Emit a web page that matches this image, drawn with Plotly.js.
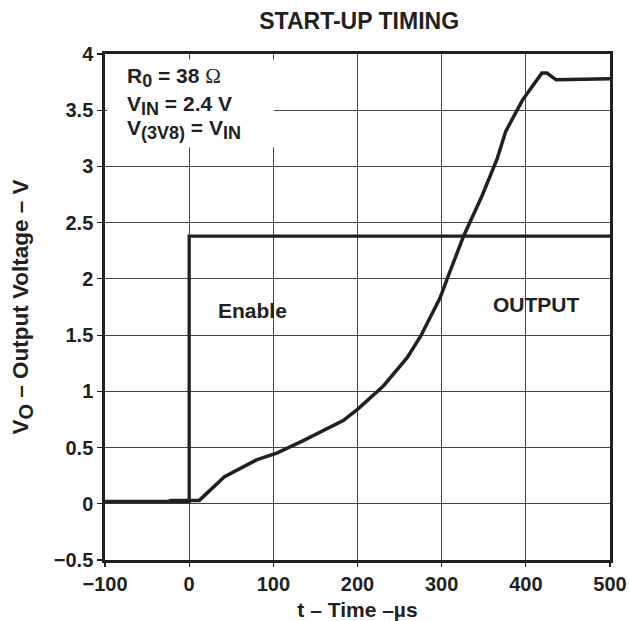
<!DOCTYPE html>
<html>
<head>
<meta charset="utf-8">
<script src="https://cdn.plot.ly/plotly-3.0.1.min.js"></script>
<style>html,body{margin:0;padding:0;background:#fff;}#chart{width:629px;height:621px;}</style>
</head>
<body>
<div id="chart"></div>
<script>
// Enable signal
const enableTime = [-100, 0, 0, 500];
const enableVolt = [0.02, 0.02, 2.38, 2.38];
// Output voltage
const outTime = [-100, -25, -22, 12, 42, 80, 104, 135, 183, 200, 231, 259, 275, 298, 308, 326, 348, 366, 376, 396, 419, 425, 436, 500];
const outVolt = [0.02, 0.02, 0.03, 0.03, 0.24, 0.39, 0.45, 0.56, 0.74, 0.84, 1.05, 1.30, 1.49, 1.83, 2.03, 2.38, 2.74, 3.07, 3.31, 3.59, 3.83, 3.83, 3.77, 3.78];

const xTicks = [-100, 0, 100, 200, 300, 400, 500];
const xTickText = ['\u2212100', '0', '100', '200', '300', '400', '500'];
const yTicks = [-0.5, 0, 0.5, 1, 1.5, 2, 2.5, 3, 3.5, 4];
const yTickText = ['\u22120.5', '0', '0.5', '1', '1.5', '2', '2.5', '3', '3.5', '4'];

const ink = '#231f20';
const fontFam = 'Liberation Sans, Arial, sans-serif';

const traces = [
  {x: enableTime, y: enableVolt, mode: 'lines', line: {color: ink, width: 3.3}, hoverinfo: 'skip'},
  {x: outTime, y: outVolt, mode: 'lines', line: {color: ink, width: 3.5}, hoverinfo: 'skip'}
];

const sub = (s, sz) => '<sub><span style="font-size:' + (sz || 18) + 'px">' + s + '</span></sub>';

const layout = {
  width: 629, height: 621,
  margin: {l: 104.5, r: 19, t: 53.5, b: 61},
  paper_bgcolor: '#fff', plot_bgcolor: '#fff',
  showlegend: false,
  font: {family: fontFam, color: ink, size: 20},
  title: {text: '<b>START-UP TIMING</b>', x: 0.571, xanchor: 'center', y: 0.967, yanchor: 'middle', font: {size: 23, family: fontFam, color: ink}},
  xaxis: {
    range: [-100, 500], tickvals: xTicks, ticktext: xTickText,
    showgrid: true, gridcolor: '#444', gridwidth: 1,
    zeroline: false, showline: true, linecolor: ink, linewidth: 2.7, mirror: true,
    ticks: 'outside', ticklen: 4, tickcolor: ink, tickwidth: 1.2,
    tickfont: {size: 20, family: fontFam, color: ink, weight: 'bold'},
    title: {text: '<b>t \u2013 Time \u2013\u00b5s</b>', font: {size: 21, family: fontFam, color: ink}, standoff: 12}
  },
  yaxis: {
    range: [-0.5, 4], tickvals: yTicks, ticktext: yTickText,
    showgrid: true, gridcolor: '#444', gridwidth: 1,
    zeroline: false, showline: true, linecolor: ink, linewidth: 2.7, mirror: true,
    ticks: 'outside', ticklen: 5, tickcolor: ink, tickwidth: 1.2,
    tickfont: {size: 20, family: fontFam, color: ink, weight: 'bold'},
    title: {text: '<b>V' + sub('O', 20) + ' \u2013 Output Voltage \u2013 V</b>', font: {size: 22.5, family: fontFam, color: ink}, standoff: 19}
  },
  shapes: [
    {type: 'rect', xref: 'paper', yref: 'paper', x0: 0.004, x1: 0.335, y0: 0.815, y1: 0.989, fillcolor: '#fff', line: {width: 0}, layer: 'above'}
  ],
  annotations: [
    {xref: 'paper', yref: 'paper', x: 0.04, y: 0.953, xanchor: 'left', yanchor: 'middle', showarrow: false, align: 'left',
     text: '<b>R' + sub('0') + ' = 38 <span style="font-family:Liberation Serif;font-weight:normal">\u03a9</span></b>', font: {size: 21, family: fontFam, color: ink}},
    {xref: 'paper', yref: 'paper', x: 0.04, y: 0.899, xanchor: 'left', yanchor: 'middle', showarrow: false, align: 'left',
     text: '<b>V' + sub('IN') + ' = 2.4 V</b>', font: {size: 21, family: fontFam, color: ink}},
    {xref: 'paper', yref: 'paper', x: 0.04, y: 0.85, xanchor: 'left', yanchor: 'middle', showarrow: false, align: 'left',
     text: '<b>V' + sub('(3V8)') + ' = V' + sub('IN') + '</b>', font: {size: 21, family: fontFam, color: ink}},
    {xref: 'x', yref: 'y', x: 75, y: 1.72, xanchor: 'center', yanchor: 'middle', showarrow: false,
     text: '<b>Enable</b>', font: {size: 21, family: fontFam, color: ink}},
    {xref: 'x', yref: 'y', x: 413, y: 1.77, xanchor: 'center', yanchor: 'middle', showarrow: false,
     text: '<b>OUTPUT</b>', font: {size: 21, family: fontFam, color: ink}}
  ]
};

Plotly.newPlot('chart', traces, layout, {staticPlot: true, displayModeBar: false});
</script>
</body>
</html>
